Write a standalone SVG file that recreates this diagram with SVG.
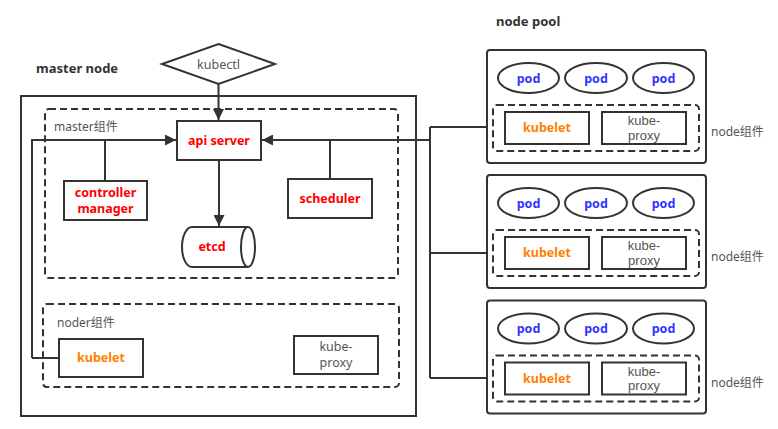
<svg xmlns="http://www.w3.org/2000/svg" width="778" height="429" viewBox="0 0 778 429">
<defs>
<style>
.b{fill:#fff;stroke:#333;stroke-width:2}
.d{fill:none;stroke:#333;stroke-width:2;stroke-dasharray:7 4}
.l{fill:none;stroke:#333;stroke-width:2}
text{font-family:"Noto Sans","Noto Sans CJK SC",sans-serif;font-size:12.5px;text-anchor:middle}
.r{fill:#ff0000;font-weight:bold}
.o{fill:#ff8000;font-weight:bold}
.p{fill:#3333ff;font-weight:bold}
.g{fill:#555}
.k{fill:#555;font-family:"Liberation Sans","Noto Sans",sans-serif;font-size:13px}
.t{fill:#333;font-weight:bold;font-size:13px;text-anchor:start}
.s{fill:#555;font-size:12px;text-anchor:start}
</style>
<marker id="ah" viewBox="0 0 10 10" refX="10" refY="5" markerWidth="11" markerHeight="11" markerUnits="userSpaceOnUse" orient="auto">
<path d="M0,0 L10,5 L0,10 Z" fill="#333"/>
</marker>
</defs>
<rect width="778" height="429" fill="#fff"/>
<text class="t" x="36" y="73">master node</text>
<text class="t" x="496" y="26">node pool</text>

<g id="master">
<rect x="21" y="96" width="395" height="320" fill="none" stroke="#333" stroke-width="2"/>
</g>
<g id="master-components">
<rect class="d" x="45" y="109" width="353" height="169" rx="4"/>
<text class="s" x="54" y="131">master组件</text>
</g>
<g id="node-components">
<rect class="d" x="43" y="304" width="356" height="83" rx="4"/>
<text class="s" x="57" y="327">noder组件</text>
</g>

<g id="connectors">
<path class="l" d="M218.5,84 V120" marker-end="url(#ah)"/>
<path class="l" d="M219,160 V226" marker-end="url(#ah)"/>
<path class="l" d="M32,358 V140 H176" marker-end="url(#ah)"/>
<path class="l" d="M105,181 V140"/>
<path class="l" d="M430,140 H262" marker-end="url(#ah)"/>
<path class="l" d="M330,179 V140"/>
<path class="l" d="M59,358 H32"/>
<path class="l" d="M430,127 V378"/>
<path class="l" d="M430,127 H505"/>
<path class="l" d="M430,253 H505"/>
<path class="l" d="M430,378 H505"/>
</g>

<g id="kubectl">
<polygon class="b" points="218.5,44 275,64 218.5,84 162,64"/>
<text class="g" x="218.5" y="68.5">kubectl</text>
</g>
<g id="api-server">
<rect class="b" x="177" y="121" width="84" height="39"/>
<text class="r" x="219" y="145">api server</text>
</g>
<g id="controller-manager">
<rect class="b" x="64" y="181" width="83" height="39"/>
<text class="r" x="105.5" y="197">controller<tspan x="105.5" dy="16">manager</tspan></text>
</g>
<g id="scheduler">
<rect class="b" x="288" y="179" width="84" height="39"/>
<text class="r" x="330" y="203">scheduler</text>
</g>
<g id="etcd">
<path class="b" d="M192,227 H248 A7,20 0 0 1 248,267 H192 A10,20 0 0 1 192,227 Z"/>
<path class="l" d="M248,227 A7,20 0 0 0 248,267"/>
<text class="r" x="212" y="251">etcd</text>
</g>
<g id="master-kubelet">
<rect class="b" x="59" y="339" width="84" height="38"/>
<text class="o" x="101" y="362">kubelet</text>
</g>
<g id="master-kube-proxy">
<rect class="b" x="294" y="336" width="84" height="38"/>
<text class="g" x="336" y="351">kube-<tspan x="336" dy="16">proxy</tspan></text>
</g>

<g id="node1">
<rect class="b" x="487" y="50" width="219" height="113" rx="3"/>
<ellipse class="b" cx="528.5" cy="78" rx="30.5" ry="15"/>
<ellipse class="b" cx="596" cy="78" rx="31" ry="15"/>
<ellipse class="b" cx="663.5" cy="78" rx="30.5" ry="15"/>
<text class="p" x="528.5" y="82.5">pod</text>
<text class="p" x="596" y="82.5">pod</text>
<text class="p" x="663.5" y="82.5">pod</text>
<rect class="d" x="493" y="105" width="206" height="46" rx="4"/>
<rect class="b" x="505" y="112" width="84" height="32"/>
<text class="o" x="547" y="132">kubelet</text>
<rect class="b" x="602" y="112" width="84" height="32"/>
<text class="k" x="644" y="125">kube-<tspan x="644" dy="14.6">proxy</tspan></text>
<text class="s" x="711" y="136">node组件</text>
</g>
<g id="node2" transform="translate(0,125)">
<rect class="b" x="487" y="50" width="219" height="113" rx="3"/>
<ellipse class="b" cx="528.5" cy="78" rx="30.5" ry="15"/>
<ellipse class="b" cx="596" cy="78" rx="31" ry="15"/>
<ellipse class="b" cx="663.5" cy="78" rx="30.5" ry="15"/>
<text class="p" x="528.5" y="82.5">pod</text>
<text class="p" x="596" y="82.5">pod</text>
<text class="p" x="663.5" y="82.5">pod</text>
<rect class="d" x="493" y="105" width="206" height="46" rx="4"/>
<rect class="b" x="505" y="112" width="84" height="32"/>
<text class="o" x="547" y="132">kubelet</text>
<rect class="b" x="602" y="112" width="84" height="32"/>
<text class="k" x="644" y="125">kube-<tspan x="644" dy="14.6">proxy</tspan></text>
<text class="s" x="711" y="136">node组件</text>
</g>
<g id="node3" transform="translate(0,250.5)">
<rect class="b" x="487" y="50" width="219" height="113" rx="3"/>
<ellipse class="b" cx="528.5" cy="78" rx="30.5" ry="15"/>
<ellipse class="b" cx="596" cy="78" rx="31" ry="15"/>
<ellipse class="b" cx="663.5" cy="78" rx="30.5" ry="15"/>
<text class="p" x="528.5" y="82.5">pod</text>
<text class="p" x="596" y="82.5">pod</text>
<text class="p" x="663.5" y="82.5">pod</text>
<rect class="d" x="493" y="105" width="206" height="46" rx="4"/>
<rect class="b" x="505" y="112" width="84" height="32"/>
<text class="o" x="547" y="132">kubelet</text>
<rect class="b" x="602" y="112" width="84" height="32"/>
<text class="k" x="644" y="125">kube-<tspan x="644" dy="14.6">proxy</tspan></text>
<text class="s" x="711" y="136">node组件</text>
</g>
</svg>
